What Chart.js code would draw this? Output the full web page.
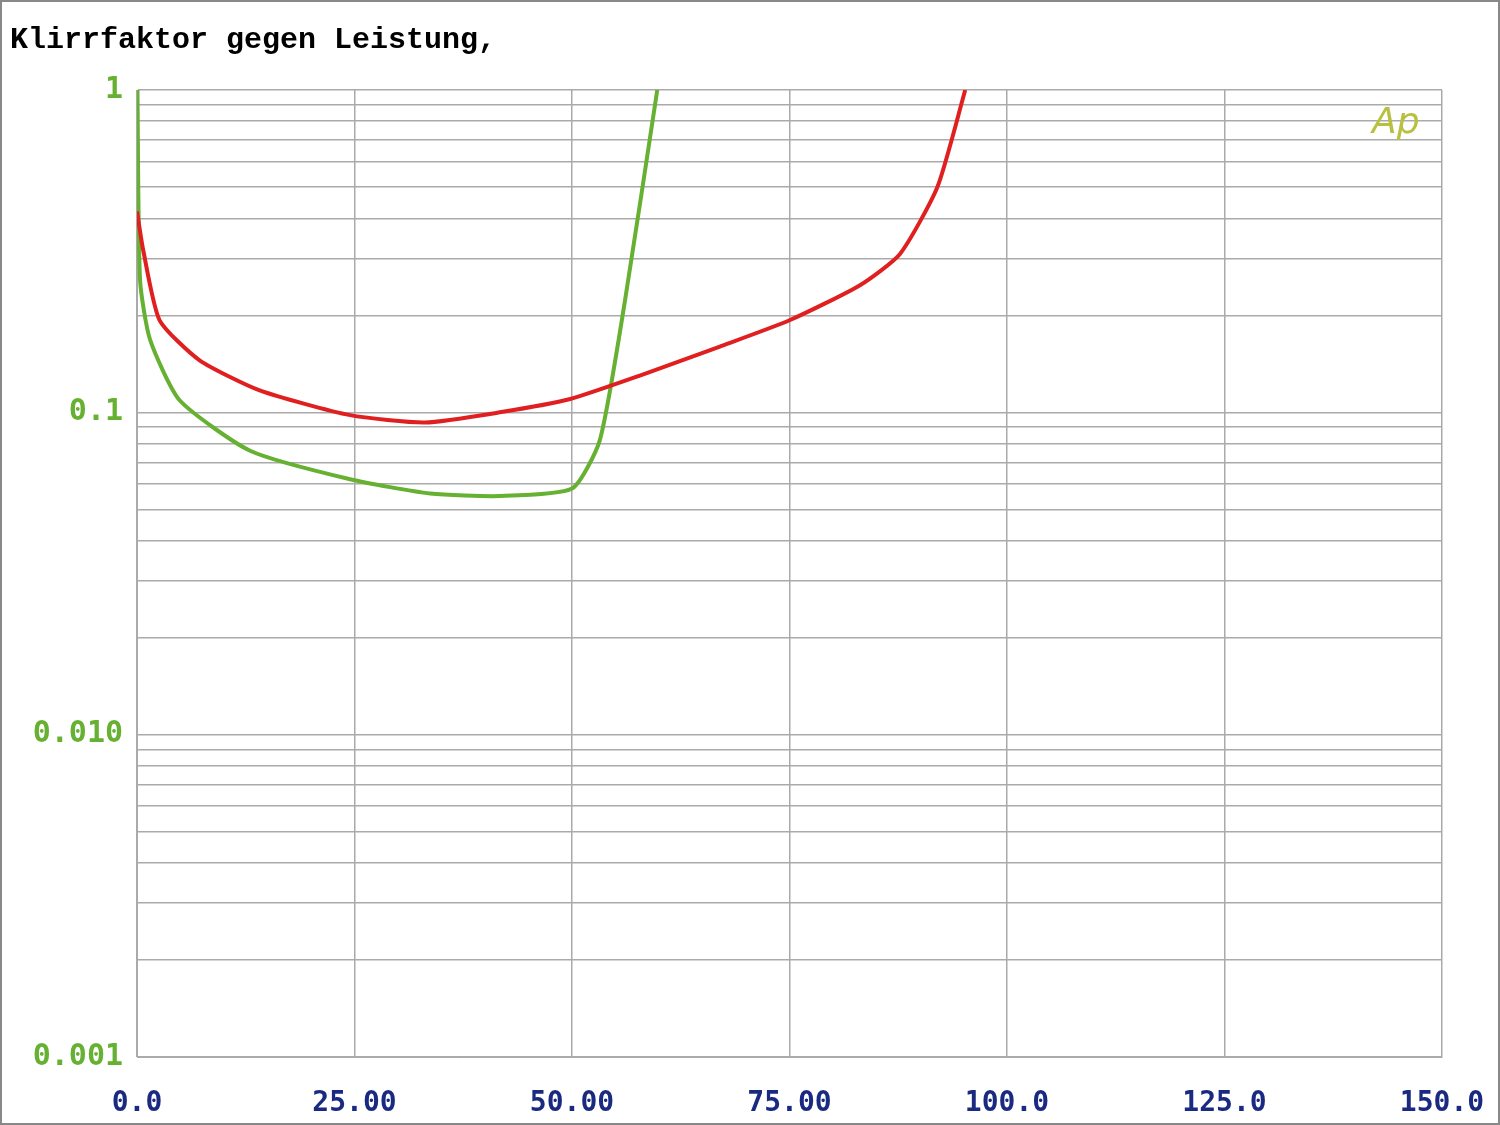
<!DOCTYPE html>
<html><head><meta charset="utf-8">
<script src="https://cdn.jsdelivr.net/npm/chart.js@4"></script>
<style>body{margin:0;background:#fff}#wrap{width:1496px;height:1121px;border:2px solid #888}</style>
</head><body><div id="wrap"><canvas id="myChart" width="1496" height="1121"></canvas></div>
<script>
var titleText = "Klirrfaktor gegen Leistung,";
var xTickLabels = {0:"0.0",25:"25.00",50:"50.00",75:"75.00",100:"100.0",125:"125.0",150:"150.0"};
var yTickLabels = {1:"1",0.1:"0.1",0.01:"0.010",0.001:"0.001"};

var redX = [0.0, 0.7, 2.6, 7.2, 14.1, 24.5, 33.1, 41.7, 49.8, 57.8, 67, 75, 83.1, 87.7, 92, 95.2];
var redY = [0.42, 0.32, 0.193, 0.145, 0.117, 0.098, 0.093, 0.1, 0.11, 0.13, 0.16, 0.193, 0.248, 0.31, 0.5, 1.0];
var greenX = [0.05, 0.35, 1.5, 4.9, 13, 24.5, 33.7, 41.7, 50, 53.2, 56.1, 59.8];
var greenY = [1.0, 0.257, 0.168, 0.109, 0.076, 0.062, 0.056, 0.055, 0.058, 0.082, 0.223, 1.0];

function pts(xs, ys){ return xs.map(function(x,i){ return {x:x, y:ys[i]}; }); }

var extras = {
    id: "extras",
    afterDraw: function(chart){
        var c = chart.ctx;
        c.save();
        c.fillStyle = "#000";
        c.font = "bold 30px 'Liberation Mono', monospace";
        c.textBaseline = "middle";
        c.fillText(titleText, 8, 38);
        c.fillStyle = "#b8c040";
        c.font = "italic 36px 'DejaVu Sans', sans-serif";
        c.fillText("Ap", 1370, 122);
        c.restore();
    }
};

new Chart("myChart", {
    type: "line",
    data: {
        datasets: [
            {data: pts(redX, redY), borderColor: "#e02020", borderWidth: 4, pointRadius: 0, tension: 0.2},
            {data: pts(greenX, greenY), borderColor: "#66b032", borderWidth: 4, pointRadius: 0, tension: 0.2}
        ]
    },
    plugins: [extras],
    options: {
        responsive: false,
        animation: false,
        layout: {padding: {top: 88, right: 0, left: 0, bottom: 0}},
        plugins: {legend: {display: false}, tooltip: {enabled: false}},
        scales: {
            x: {
                type: "linear", min: 0, max: 150,
                afterBuildTicks: function(s){ s.ticks = [0,25,50,75,100,125,150].map(function(v){return {value:v};}); },
                afterFit: function(s){ s.height = 66; s.paddingRight = 56; },
                grid: {color: "#aaa", lineWidth: 1.5, drawTicks: false},
                border: {color: "#aaa"},
                ticks: {color: "#1a2a80", font: {family: "'DejaVu Sans Mono', monospace", size: 28, weight: "bold"}, padding: 30, maxRotation: 0,
                    callback: function(v){ return xTickLabels[v]; }}
            },
            y: {
                type: "logarithmic", min: 0.001, max: 1,
                afterBuildTicks: function(s){
                    var t = [];
                    [0.001, 0.01, 0.1].forEach(function(d){ for (var k = 1; k < 10; k++) t.push({value: +(d*k).toPrecision(3)}); });
                    t.push({value: 1});
                    s.ticks = t;
                },
                afterFit: function(s){ s.width = 135; },
                grid: {color: "#aaa", lineWidth: 1.5, drawTicks: false},
                border: {color: "#aaa"},
                ticks: {color: "#66b032", font: {family: "'DejaVu Sans Mono', monospace", size: 30, weight: "bold"}, padding: 14,
                    autoSkip: false,
                    callback: function(v){ return yTickLabels[v] || ""; }}
            }
        }
    }
});
</script>
</body></html>
